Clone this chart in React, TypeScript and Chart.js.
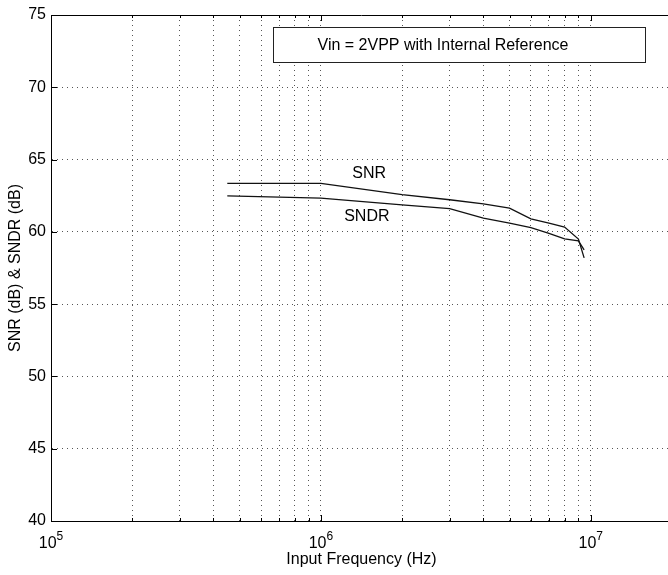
import React, { useEffect, useRef } from 'react';
import { Chart, registerables } from 'chart.js';

Chart.register(...registerables);

// ---- data ----
const frequencyHz = [4.5e5, 1e6, 2e6, 3e6, 4e6, 5e6, 6e6, 7e6, 8e6, 9e6, 9.45e6];
const snrDb = [63.35, 63.35, 62.58, 62.22, 61.94, 61.64, 60.9, 60.6, 60.33, 59.5, 58.2];
const sndrDb = [62.49, 62.33, 61.87, 61.6, 60.95, 60.6, 60.3, 59.9, 59.52, 59.38, 58.76];

const xGridTicks = [
  1e5, 2e5, 3e5, 4e5, 5e5, 6e5, 7e5, 8e5, 9e5,
  1e6, 2e6, 3e6, 4e6, 5e6, 6e6, 7e6, 8e6, 9e6,
  1e7, 2e7,
];
const xDecadeTicks = [1e5, 1e6, 1e7];
const xDecadeExponents = ['5', '6', '7'];
const yTicks = [40, 45, 50, 55, 60, 65, 70, 75];

const curveLabels = ['SNR', 'SNDR'];
const curveLabelFreq = [1.51e6, 1.48e6];
const curveLabelDb = [64.03, 61.04];

const legendText = 'Vin = 2VPP with Internal Reference';

const FONT = '"Liberation Sans", Arial, Helvetica, sans-serif';

const matlabPlugin = {
  id: 'matlabFrame',
  afterDatasetsDraw(chart: any) {
    const { ctx, chartArea: a, scales } = chart;
    const x = scales.x;
    const y = scales.y;
    ctx.save();
    ctx.strokeStyle = '#000';
    ctx.lineWidth = 1;
    // top frame
    ctx.beginPath();
    ctx.moveTo(a.left, Math.round(a.top) + 0.5);
    ctx.lineTo(a.right, Math.round(a.top) + 0.5);
    ctx.stroke();
    // inward ticks
    ctx.beginPath();
    xGridTicks.forEach((v) => {
      const px = Math.round(x.getPixelForValue(v)) + 0.5;
      const len = xDecadeTicks.includes(v) ? 6 : 3;
      ctx.moveTo(px, a.bottom);
      ctx.lineTo(px, a.bottom - len);
      ctx.moveTo(px, a.top);
      ctx.lineTo(px, a.top + len);
    });
    yTicks.forEach((v) => {
      const py = Math.round(y.getPixelForValue(v)) + 0.5;
      ctx.moveTo(a.left, py);
      ctx.lineTo(a.left + 6, py);
    });
    ctx.stroke();

    // curve labels
    ctx.fillStyle = '#000';
    ctx.font = `16px ${FONT}`;
    ctx.textAlign = 'center';
    ctx.textBaseline = 'middle';
    curveLabels.forEach((t, i) => {
      ctx.fillText(t, x.getPixelForValue(curveLabelFreq[i]), y.getPixelForValue(curveLabelDb[i]));
    });

    // legend box
    const bx1 = Math.round(x.getPixelForValue(6.67e5)) + 0.5;
    const bx2 = Math.round(x.getPixelForValue(1.59e7)) + 0.5;
    const by1 = Math.round(y.getPixelForValue(74.17)) + 0.5;
    const by2 = Math.round(y.getPixelForValue(71.75)) + 0.5;
    ctx.fillStyle = '#fff';
    ctx.fillRect(bx1, by1, bx2 - bx1, by2 - by1);
    ctx.strokeStyle = '#222';
    ctx.lineWidth = 1;
    ctx.strokeRect(bx1, by1, bx2 - bx1, by2 - by1);
    ctx.fillStyle = '#000';
    ctx.textAlign = 'left';
    ctx.fillText(legendText, bx1 + 44, (by1 + by2) / 2 + 0.5);
    ctx.restore();
  },
  afterDraw(chart: any) {
    const { ctx, chartArea: a, scales } = chart;
    const x = scales.x;
    ctx.save();
    ctx.fillStyle = '#000';
    ctx.textBaseline = 'alphabetic';
    ctx.textAlign = 'left';
    xDecadeTicks.forEach((v, i) => {
      const px = x.getPixelForValue(v);
      ctx.font = `16px ${FONT}`;
      const w10 = ctx.measureText('10').width;
      ctx.font = `12px ${FONT}`;
      const wExp = ctx.measureText(xDecadeExponents[i]).width;
      const start = px - (w10 + wExp) / 2;
      ctx.font = `16px ${FONT}`;
      ctx.fillText('10', start, a.bottom + 27);
      ctx.font = `12px ${FONT}`;
      ctx.fillText(xDecadeExponents[i], start + w10, a.bottom + 19);
    });
    ctx.restore();
  },
};

export default function App() {
  const canvasRef = useRef<HTMLCanvasElement | null>(null);

  useEffect(() => {
    if (!canvasRef.current) return;
    Chart.defaults.font.family = FONT;
    const chart = new Chart(canvasRef.current, {
      type: 'line',
      data: {
        datasets: [
          {
            label: 'SNR',
            data: frequencyHz.map((f, i) => ({ x: f, y: snrDb[i] })),
            borderColor: '#111',
            borderWidth: 1.3,
            pointRadius: 0,
            tension: 0,
            fill: false,
          },
          {
            label: 'SNDR',
            data: frequencyHz.map((f, i) => ({ x: f, y: sndrDb[i] })),
            borderColor: '#111',
            borderWidth: 1.3,
            pointRadius: 0,
            tension: 0,
            fill: false,
          },
        ],
      },
      options: {
        animation: false,
        responsive: false,
        events: [],
        layout: { padding: { top: 15, left: 0, right: 0, bottom: 0 } },
        plugins: {
          legend: { display: false },
          tooltip: { enabled: false },
          title: { display: false },
        },
        scales: {
          x: {
            type: 'logarithmic',
            min: 1e5,
            max: 2e7,
            afterBuildTicks: (s: any) => {
              s.ticks = xGridTicks.map((v) => ({ value: v }));
            },
            afterFit: (s: any) => {
              s.height = 54;
            },
            ticks: { display: false },
            grid: { color: '#555', lineWidth: 1, drawTicks: false },
            border: { display: true, color: '#000', width: 1, dash: [1, 4] },
            title: {
              display: true,
              text: 'Input Frequency (Hz)',
              color: '#000',
              font: { size: 16, family: FONT },
              padding: { top: 0, bottom: 6 },
            },
          },
          y: {
            type: 'linear',
            min: 40,
            max: 75,
            afterBuildTicks: (s: any) => {
              s.ticks = yTicks.map((v) => ({ value: v }));
            },
            afterFit: (s: any) => {
              s.width = 51;
            },
            ticks: { color: '#000', font: { size: 16, family: FONT }, padding: 5 },
            grid: { color: '#555', lineWidth: 1, drawTicks: false },
            border: { display: true, color: '#000', width: 1, dash: [1, 4] },
            title: {
              display: true,
              text: 'SNR (dB) & SNDR (dB)',
              color: '#000',
              font: { size: 16, family: FONT },
              padding: { top: 6, bottom: 0 },
            },
          },
        },
      },
      plugins: [matlabPlugin],
    } as any);
    return () => chart.destroy();
  }, []);

  return (
    <div
      style={{
        position: 'fixed',
        left: 0,
        top: 0,
        width: 668,
        height: 575,
        overflow: 'hidden',
        background: '#fff',
      }}
    >
      <canvas ref={canvasRef} width={672} height={575} style={{ display: 'block' }} />
    </div>
  );
}
